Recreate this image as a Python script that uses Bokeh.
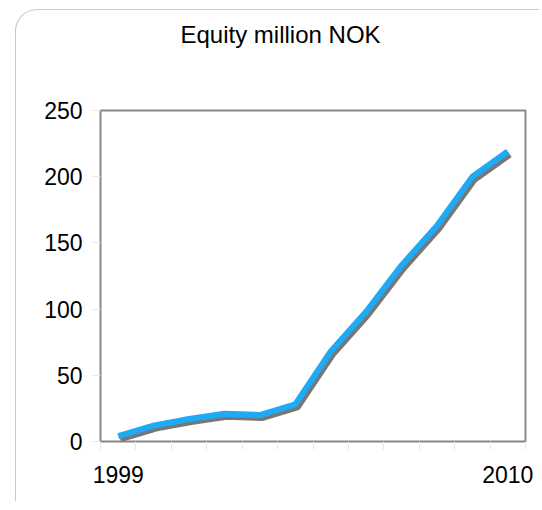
from bokeh.plotting import figure
from bokeh.models import ColumnDataSource, FixedTicker, Range1d, Title
from bokeh.transform import dodge
from bokeh.embed import file_html
from bokeh.resources import INLINE

title_text = "Equity million NOK"
years = [1999, 2000, 2001, 2002, 2003, 2004, 2005, 2006, 2007, 2008, 2009, 2010]
equity = [4, 12, 17, 21, 20, 28, 68, 98, 133, 163, 200, 219]
y_ticks = [0, 50, 100, 150, 200, 250]
x_label_years = [1999, 2010]

src = ColumnDataSource(dict(year=years, equity=equity))

p = figure(width=524, height=492, output_backend="svg", toolbar_location=None,
           x_range=Range1d(years[0] - 0.5, years[-1] + 0.5),
           y_range=Range1d(y_ticks[0], y_ticks[-1]),
           min_border_left=84, min_border_right=15, min_border_top=0, min_border_bottom=61)
p.styles = {"margin-left": "15px", "margin-top": "9px",
            "border-top": "1px solid #c8c8c8", "border-left": "1px solid #c8c8c8",
            "border-top-left-radius": "22px"}
p.background_fill_color = None
p.border_fill_color = None

p.title.text = title_text
p.title.align = "left"
p.title.offset = 80
p.title.standoff = 16
p.title.text_font = "Liberation Sans"
p.title.text_font_size = "24px"
p.title.text_font_style = "normal"
p.title.text_color = "#000000"

spacer = Title(text=" ", text_font_size="24px", standoff=26)
p.add_layout(spacer, "above")

p.xgrid.visible = False
p.ygrid.visible = False
p.outline_line_color = "#888888"
p.outline_line_width = 2

p.line(x=dodge("year", 0.06), y=dodge("equity", -2.3), source=src,
       line_color="#777777", line_width=6)
p.line(x="year", y="equity", source=src, line_color="#1eaaf5", line_width=6)

minor = [y - 0.5 for y in years] + [years[-1] + 0.5]
xa = p.xaxis[0]
xa.ticker = FixedTicker(ticks=x_label_years, minor_ticks=minor)
xa.axis_line_color = None
xa.major_tick_line_color = None
xa.minor_tick_line_color = "#e6e6e6"
xa.minor_tick_out = 8
xa.minor_tick_in = 0
xa.major_label_standoff = 16
xa.major_label_text_font = "Liberation Sans"
xa.major_label_text_font_size = "23px"
xa.major_label_text_color = "#000000"

ya = p.yaxis[0]
ya.ticker = FixedTicker(ticks=y_ticks)
ya.axis_line_color = None
ya.major_tick_line_color = "#e6e6e6"
ya.major_tick_out = 8
ya.major_tick_in = 0
ya.minor_tick_line_color = None
ya.major_label_standoff = 10
ya.major_label_text_font = "Liberation Sans"
ya.major_label_text_font_size = "23px"
ya.major_label_text_color = "#000000"

open("out.html", "w").write(file_html(p, INLINE))
